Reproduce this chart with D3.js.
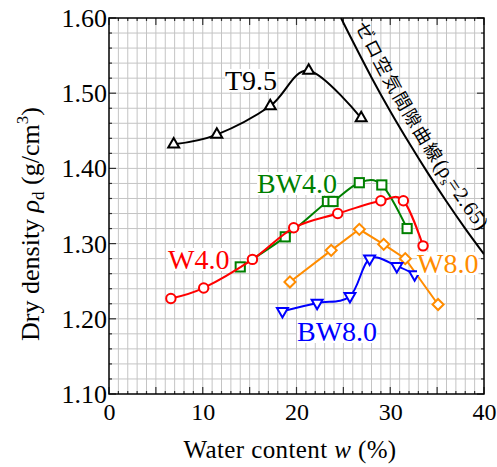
<!DOCTYPE html>
<html>
<head>
<meta charset="utf-8">
<script src="https://cdn.jsdelivr.net/npm/d3@7"></script>
<style>
html,body{margin:0;padding:0;background:#fff;}
svg{display:block;}
</style>
</head>
<body>
<svg id="chart" width="497" height="467"></svg>
<script>
// ---- data ----
const xTicks = [0, 10, 20, 30, 40];
const yTicks = [1.10, 1.20, 1.30, 1.40, 1.50, 1.60];

const t95W   = [6.9, 11.5, 17.2, 21.3, 26.9];
const t95Rho = [1.432, 1.445, 1.483, 1.530, 1.467];

const bw40W   = [14.0, 18.8, 23.3, 23.9, 26.7, 29.1, 31.8];
const bw40Rho = [1.269, 1.309, 1.356, 1.356, 1.381, 1.378, 1.320];

const w40W   = [6.6, 10.1, 15.3, 19.7, 24.4, 29.0, 31.4, 33.5];
const w40Rho = [1.227, 1.241, 1.279, 1.321, 1.340, 1.357, 1.357, 1.297];

const w80W   = [19.3, 23.7, 26.7, 29.3, 31.6, 35.1];
const w80Rho = [1.249, 1.291, 1.319, 1.299, 1.280, 1.219];

const bw80W   = [18.5, 22.2, 25.7, 27.8, 30.7, 32.6];
const bw80Rho = [1.210, 1.221, 1.230, 1.280, 1.270, 1.259];

// zero air void curve
const zavW   = [24.75, 26, 28, 30, 32, 34, 36, 38, 40];
const zavRho = [1.600, 1.569, 1.521, 1.476, 1.434, 1.394, 1.356, 1.320, 1.286];

const seriesNames = ["T9.5", "BW4.0", "W4.0", "W8.0", "BW8.0"];
const seriesColors = ["#000000", "#008000", "#ff0000", "#ff8c00", "#0000ff"];

// ---- layout ----
const L = 109, T = 18, W = 375, H = 376;
const svg = d3.select("#chart");
const x = d3.scaleLinear().domain([0, 40]).range([L, L + W]);
const y = d3.scaleLinear().domain([1.1, 1.6]).range([T + H, T]);
const serif = "'Liberation Serif','Times New Roman',serif";

// grid
const g = svg.append("g");
g.selectAll(".vg").data(d3.range(1, 40)).join("line")
  .attr("x1", d => x(d)).attr("x2", d => x(d)).attr("y1", T).attr("y2", T + H)
  .attr("stroke", "#c4c4c4").attr("stroke-width", 1);
g.selectAll(".hg").data(d3.range(1, 25).map(i => 1.1 + i * 0.02)).join("line")
  .attr("y1", d => y(d)).attr("y2", d => y(d)).attr("x1", L).attr("x2", L + W)
  .attr("stroke", "#c4c4c4").attr("stroke-width", 1);

// ticks (inward, all four sides)
const xMinor = d3.range(0, 41);
const yMinor = d3.range(0, 26).map(i => 1.1 + i * 0.02);
const tk = svg.append("g").attr("stroke", "#333").attr("stroke-width", 1.2);
xMinor.forEach(v => {
  const len = (v % 5 === 0) ? 7 : 3;
  tk.append("line").attr("x1", x(v)).attr("x2", x(v)).attr("y1", T + H).attr("y2", T + H - len);
  tk.append("line").attr("x1", x(v)).attr("x2", x(v)).attr("y1", T).attr("y2", T + len);
});
yMinor.forEach((v, i) => {
  const len = (i % 5 === 0) ? 7 : 3;
  tk.append("line").attr("y1", y(v)).attr("y2", y(v)).attr("x1", L).attr("x2", L + len);
  tk.append("line").attr("y1", y(v)).attr("y2", y(v)).attr("x1", L + W).attr("x2", L + W - len);
});

// frame
svg.append("rect").attr("x", L).attr("y", T).attr("width", W).attr("height", H)
  .attr("fill", "none").attr("stroke", "#000").attr("stroke-width", 1.5);

// tick labels through d3 axes (domain/ticks hidden)
const xAxis = svg.append("g").attr("transform", `translate(0,${T + H})`)
  .call(d3.axisBottom(x).tickValues(xTicks).tickSize(0).tickPadding(0).tickFormat(d3.format("d")));
xAxis.select(".domain").remove();
xAxis.selectAll("text").attr("font-family", serif).attr("font-size", 24).attr("fill", "#000")
  .attr("dy", null).attr("y", 26);

const yAxis = svg.append("g").attr("transform", `translate(${L},0)`)
  .call(d3.axisLeft(y).tickValues(yTicks).tickSize(0).tickPadding(0).tickFormat(d3.format(".2f")));
yAxis.select(".domain").remove();
yAxis.selectAll("text").attr("font-family", serif).attr("font-size", 26).attr("fill", "#000")
  .attr("x", -2).attr("dy", "0.33em");

// clip
svg.append("clipPath").attr("id", "clip").append("rect")
  .attr("x", L).attr("y", T).attr("width", W).attr("height", H);

// zero air void curve
const zavPts = zavW.map((w, i) => [x(w), y(zavRho[i])]);
const lineGen = d3.line().curve(d3.curveCatmullRom.alpha(0.5));
svg.append("path").attr("d", lineGen(zavPts)).attr("fill", "none")
  .attr("stroke", "#000").attr("stroke-width", 2).attr("clip-path", "url(#clip)");

// offset path for its label
const off = 9;
const offPts = zavPts.map((p, i) => {
  const a = zavPts[Math.max(0, i - 1)], b = zavPts[Math.min(zavPts.length - 1, i + 1)];
  const dx = b[0] - a[0], dy = b[1] - a[1], len = Math.hypot(dx, dy);
  return [p[0] + dy / len * off, p[1] - dx / len * off];
});
svg.append("defs").append("path").attr("id", "zavLabelPath").attr("d", lineGen(offPts));
const zt = svg.append("text").append("textPath").attr("href", "#zavLabelPath").attr("startOffset", 13);
zt.append("tspan").attr("font-family", "'Noto Sans CJK JP',sans-serif").attr("font-size", 18)
  .attr("letter-spacing", 2).text("ゼロ空気間隙曲線");
zt.append("tspan").attr("font-family", serif).attr("font-size", 21).text("(ρ");
zt.append("tspan").attr("font-family", serif).attr("font-size", 13).attr("dy", 4).text("s");
zt.append("tspan").attr("font-family", serif).attr("font-size", 21).attr("dy", -4)
  .attr("letter-spacing", 0.5).text("=2.65)");

// series
const smooth = d3.curveCardinal.tension(0);
const series = [
  {w: t95W, r: t95Rho, sym: "triUp", curve: smooth},
  {w: bw40W, r: bw40Rho, sym: "square", curve: smooth},
  {w: w40W, r: w40Rho, sym: "circle", curve: smooth},
  {w: w80W, r: w80Rho, sym: "diamond", curve: d3.curveLinear},
  {w: bw80W, r: bw80Rho, sym: "triDown", curve: smooth}
];
series.forEach((s, k) => {
  const col = seriesColors[k];
  const pts = s.w.map((w, i) => [x(w), y(s.r[i])]);
  svg.append("path").attr("d", d3.line().curve(s.curve)(pts)).attr("fill", "none")
    .attr("stroke", col).attr("stroke-width", 2);
  const mg = svg.append("g");
  pts.forEach(p => {
    let el;
    if (s.sym === "circle") {
      el = mg.append("circle").attr("cx", p[0]).attr("cy", p[1]).attr("r", 4.7);
    } else if (s.sym === "square") {
      el = mg.append("rect").attr("x", p[0] - 4.6).attr("y", p[1] - 4.6).attr("width", 9.2).attr("height", 9.2);
    } else if (s.sym === "diamond") {
      el = mg.append("path").attr("transform", `translate(${p[0]},${p[1]}) rotate(45)`)
        .attr("d", "M-3.9,-3.9H3.9V3.9H-3.9Z");
    } else {
      const rot = s.sym === "triDown" ? 180 : 0;
      el = mg.append("path").attr("transform", `translate(${p[0]},${p[1]}) rotate(${rot})`)
        .attr("d", d3.symbol(d3.symbolTriangle, 52)());
    }
    el.attr("fill", "#fff").attr("stroke", col).attr("stroke-width", 2);
  });
});

// series labels with white backgrounds
const labelPos = [
  [225, 90], [257, 193], [168, 269], [417, 273], [297, 341]
];
seriesNames.forEach((name, k) => {
  const t = svg.append("text").attr("x", labelPos[k][0]).attr("y", labelPos[k][1])
    .attr("font-family", serif).attr("font-size", 28).attr("fill", seriesColors[k]).text(name);
  const bb = t.node().getBBox();
  svg.insert("rect", function () { return t.node(); })
    .attr("x", bb.x).attr("y", bb.y + 4).attr("width", bb.width).attr("height", bb.height - 8)
    .attr("fill", "#fff");
});

// axis titles
const xt = svg.append("text").attr("x", 290).attr("y", 458).attr("text-anchor", "middle")
  .attr("font-family", serif).attr("font-size", 25).attr("letter-spacing", 0.4).attr("fill", "#000");
xt.append("tspan").text("Water content ");
xt.append("tspan").attr("font-style", "italic").text("w");
xt.append("tspan").text(" (%)");

const yt = svg.append("text").attr("transform", "translate(39,224) rotate(-90)")
  .attr("text-anchor", "middle").attr("font-family", serif).attr("font-size", 26).attr("fill", "#000");
yt.append("tspan").text("Dry density  ");
yt.append("tspan").attr("font-style", "italic").text("ρ");
yt.append("tspan").attr("font-size", 17).attr("dy", 5).text("d");
yt.append("tspan").attr("dy", -5).text(" (g/cm");
yt.append("tspan").attr("font-size", 17).attr("dy", -11).text("3");
yt.append("tspan").attr("dy", 11).text(")");
</script>
</body>
</html>
